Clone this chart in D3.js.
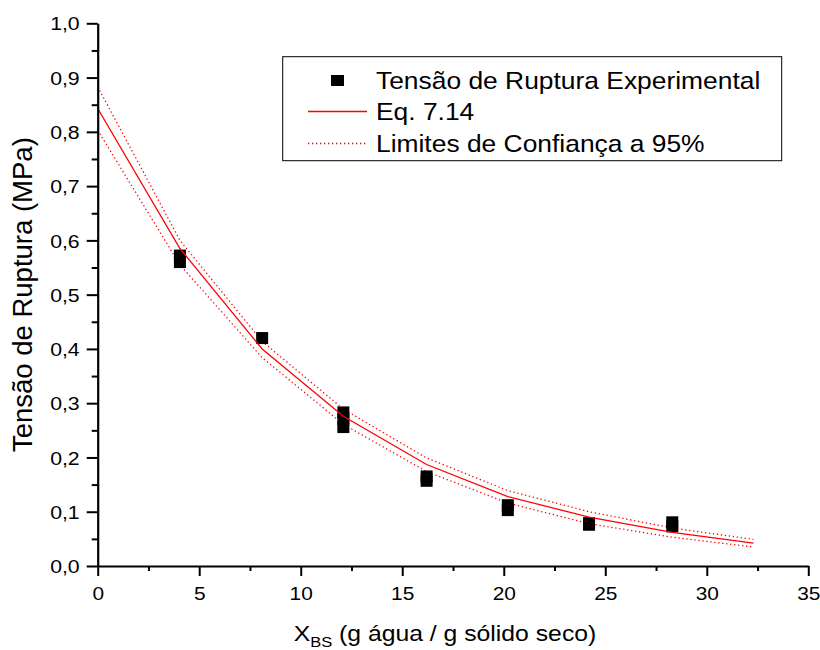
<!DOCTYPE html>
<html><head><meta charset="utf-8">
<script src="https://cdn.jsdelivr.net/npm/d3@7"></script>
<style>
body{margin:0;background:#fff}
svg{display:block}
text{font-family:"Liberation Sans",Arial,Helvetica,sans-serif;fill:#000}
.sxc{transform-box:fill-box;transform-origin:50% 50%;transform:scaleX(1.1)}
.sxr{transform-box:fill-box;transform-origin:100% 50%;transform:scaleX(1.12)}
.sxl{transform-box:fill-box;transform-origin:0% 50%;transform:scaleX(1.1)}
</style></head>
<body><svg id="c" width="820" height="650"></svg>
<script>
// ---- data ----
const moistureX = [4.05, 4.05, 8.1, 12.1, 12.1, 12.1, 16.2, 16.2, 20.2, 20.2, 24.2, 24.2, 28.3, 28.3];
const ruptureStress = [0.572, 0.560, 0.420, 0.283, 0.270, 0.256, 0.165, 0.157, 0.112, 0.103, 0.079, 0.076, 0.0805, 0.073];
const fitX = [0, 4.05, 8.1, 12.1, 16.2, 20.2, 24.2, 28.3, 32.3];
const fitY = [0.843, 0.585, 0.400, 0.276, 0.187, 0.128, 0.090, 0.062, 0.042];
const upperY = [0.883, 0.600, 0.414, 0.289, 0.199, 0.139, 0.100, 0.070, 0.049];
const lowerY = [0.803, 0.555, 0.384, 0.261, 0.174, 0.116, 0.078, 0.053, 0.035];
const xTicks = [0, 5, 10, 15, 20, 25, 30, 35];
const xTickLabels = ["0", "5", "10", "15", "20", "25", "30", "35"];
const xMinorTicks = [2.5, 7.5, 12.5, 17.5, 22.5, 27.5, 32.5];
const yTicks = [0, 0.1, 0.2, 0.3, 0.4, 0.5, 0.6, 0.7, 0.8, 0.9, 1.0];
const yTickLabels = ["0,0", "0,1", "0,2", "0,3", "0,4", "0,5", "0,6", "0,7", "0,8", "0,9", "1,0"];
const yMinorTicks = [0.05, 0.15, 0.25, 0.35, 0.45, 0.55, 0.65, 0.75, 0.85, 0.95];
const legendLabels = ["Tensão de Ruptura Experimental", "Eq. 7.14", "Limites de Confiança a 95%"];

const svg = d3.select("#c");
svg.append("rect").attr("width", 820).attr("height", 650).attr("fill", "#fff");

const x = d3.scaleLinear().domain([0, 35]).range([97.7, 808.3]);
const y = d3.scaleLinear().domain([0, 1]).range([566, 23.3]);

// curves
const line = (ys) => d3.line().x((d, i) => x(fitX[i])).y((d, i) => y(ys[i]))(ys);
svg.append("path").attr("d", line(upperY)).attr("fill", "none")
  .attr("stroke", "#ff0000").attr("stroke-width", 1.3).attr("stroke-dasharray", "1.3,2.7");
svg.append("path").attr("d", line(lowerY)).attr("fill", "none")
  .attr("stroke", "#ff0000").attr("stroke-width", 1.3).attr("stroke-dasharray", "1.3,2.7");

// points
svg.append("g").selectAll("rect").data(moistureX).join("rect")
  .attr("x", (d) => x(d) - 6).attr("y", (d, i) => y(ruptureStress[i]) - 6)
  .attr("width", 12).attr("height", 12).attr("fill", "#000");

svg.append("path").attr("d", line(fitY)).attr("fill", "none")
  .attr("stroke", "#ff0000").attr("stroke-width", 1.3);

// axes
const xAxis = svg.append("g").attr("transform", `translate(0,${y(0)})`)
  .call(d3.axisBottom(x).tickValues(xTicks).tickSize(10).tickSizeOuter(0)
    .tickFormat((d, i) => xTickLabels[i]));
svg.append("g").attr("transform", `translate(0,${y(0)})`)
  .call(d3.axisBottom(x).tickValues(xMinorTicks).tickSize(5).tickSizeOuter(0).tickFormat(""))
  .call(g => g.select(".domain").remove());
const yAxis = svg.append("g").attr("transform", `translate(${x(0)},0)`)
  .call(d3.axisLeft(y).tickValues(yTicks).tickSize(11).tickSizeOuter(0)
    .tickFormat((d, i) => yTickLabels[i]));
svg.append("g").attr("transform", `translate(${x(0)},0)`)
  .call(d3.axisLeft(y).tickValues(yMinorTicks).tickSize(6).tickSizeOuter(0).tickFormat(""))
  .call(g => g.select(".domain").remove());

svg.selectAll(".domain").attr("stroke", "#000").attr("stroke-width", 2.2);
svg.selectAll(".tick line").attr("stroke", "#000").attr("stroke-width", 2);
xAxis.selectAll("text").attr("y", 21).attr("dy", "0.71em")
  .attr("font-size", 19).attr("font-family", null).attr("class", "sxc");
yAxis.selectAll("text").attr("x", -18).attr("dy", "0.35em")
  .attr("font-size", 19).attr("font-family", null).attr("class", "sxr");

// axis titles
const xt = svg.append("text").attr("x", 445).attr("y", 641).attr("text-anchor", "middle")
  .attr("font-size", 22.5).attr("class", "sxc");
xt.append("tspan").text("X");
xt.append("tspan").attr("font-size", 15).attr("dy", 6).text("BS");
xt.append("tspan").attr("dy", -6).text(" (g água / g sólido seco)");

svg.append("text").attr("transform", `translate(32,${(y(0) + y(1)) / 2}) rotate(-90)`)
  .attr("text-anchor", "middle").attr("font-size", 27.5).text("Tensão de Ruptura (MPa)");

// legend
const lg = svg.append("g");
lg.append("rect").attr("x", 282.7).attr("y", 56.7).attr("width", 499).attr("height", 104)
  .attr("fill", "#fff").attr("stroke", "#000").attr("stroke-width", 1);
const rowY = [80.5, 111.5, 143.5];
lg.append("rect").attr("x", 331).attr("y", rowY[0] - 5.5).attr("width", 13).attr("height", 11).attr("fill", "#000");
lg.append("line").attr("x1", 308).attr("x2", 367).attr("y1", rowY[1]).attr("y2", rowY[1])
  .attr("stroke", "#ff0000").attr("stroke-width", 1.3);
lg.append("line").attr("x1", 308).attr("x2", 366).attr("y1", rowY[2]).attr("y2", rowY[2])
  .attr("stroke", "#ff0000").attr("stroke-width", 1.3).attr("stroke-dasharray", "1.3,2.7");
lg.selectAll("text.lg").data(legendLabels).join("text").attr("class", "lg sxl")
  .attr("x", 376).attr("y", (d, i) => rowY[i]).attr("dy", "0.36em")
  .attr("font-size", 24).text(d => d);
</script></body></html>
